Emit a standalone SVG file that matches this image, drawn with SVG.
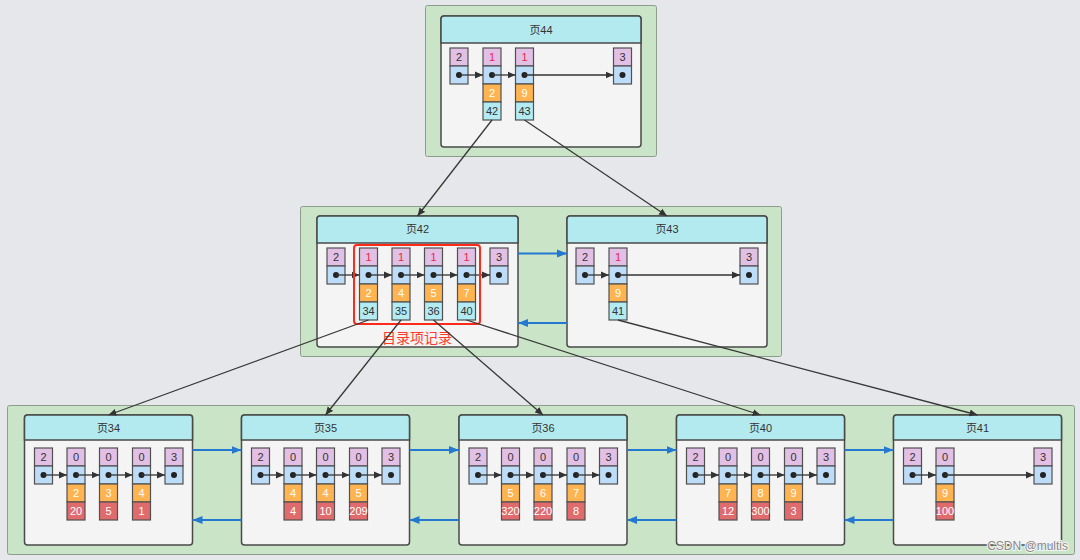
<svg xmlns="http://www.w3.org/2000/svg" width="1080" height="560" viewBox="0 0 1080 560">
<defs>
<style>
.bg{fill:#e6e7ea}
.grp{fill:#c9e4c6;stroke:#8d9d8c;stroke-width:1}
.box{fill:#f4f4f4;stroke:#4a4a4a;stroke-width:1.5}
.hd{fill:#b3eaef;stroke:#4a4a4a;stroke-width:1.5}
.p{fill:#e2bfe4;stroke:#505050;stroke-width:1.2}
.b{fill:#bcdcf8;stroke:#505050;stroke-width:1.2}
.o{fill:#ffb451;stroke:#505050;stroke-width:1.2}
.c{fill:#b2ebf1;stroke:#505050;stroke-width:1.2}
.r{fill:#e06b6d;stroke:#505050;stroke-width:1.2}
text{font-family:"Liberation Sans","Noto Sans CJK SC",sans-serif;text-anchor:middle}
.t{font-size:11px;fill:#333}
.w{font-size:11px;fill:#fff}
.k{font-size:11px;fill:#ee1f47}
.h{font-size:11px;fill:#333}
.dot{fill:#222}
.ar{stroke:#333;stroke-width:1.3;fill:none;marker-end:url(#ah)}
.ln{stroke:#383838;stroke-width:1.3;fill:none;marker-end:url(#ah)}
.bl{stroke:#2478cf;stroke-width:2;fill:none;marker-end:url(#bh)}
</style>
<marker id="ah" markerUnits="userSpaceOnUse" markerWidth="9" markerHeight="8" refX="8" refY="4" orient="auto"><path d="M0,0.5 L8,4 L0,7.5 z" fill="#333"/></marker>
<marker id="bh" markerUnits="userSpaceOnUse" markerWidth="11" markerHeight="9" refX="10" refY="4.5" orient="auto"><path d="M0,0.5 L10,4.5 L0,8.5 z" fill="#2478cf"/></marker>
</defs>
<rect class="bg" x="0" y="0" width="1080" height="560"/>

<g id="containers">
<rect class="grp" x="425.5" y="5.5" width="231" height="151" rx="2"/>
<rect class="grp" x="300.5" y="206.5" width="481" height="150" rx="2"/>
<rect class="grp" x="7.5" y="405.5" width="1067" height="149" rx="2"/>
</g>

<g id="page44">
<rect class="box" x="441" y="16" width="200" height="131" rx="3"/>
<path class="hd" d="M441,43 V19 a3,3 0 0 1 3,-3 H638 a3,3 0 0 1 3,3 V43 Z"/>
<text class="h" x="541" y="34">页44</text>
<rect class="p" x="450" y="48" width="18" height="18"/><rect class="b" x="450" y="66" width="18" height="18"/>
<text class="t" x="459" y="61">2</text><circle class="dot" cx="459" cy="75" r="3"/>
<rect class="p" x="483" y="48" width="18" height="18"/><rect class="b" x="483" y="66" width="18" height="18"/><rect class="o" x="483" y="84" width="18" height="18"/><rect class="c" x="483" y="102" width="18" height="18"/>
<text class="k" x="492" y="61">1</text><circle class="dot" cx="492" cy="75" r="3"/><text class="w" x="492" y="97">2</text><text class="t" x="492" y="115">42</text>
<rect class="p" x="515.5" y="48" width="18" height="18"/><rect class="b" x="515.5" y="66" width="18" height="18"/><rect class="o" x="515.5" y="84" width="18" height="18"/><rect class="c" x="515.5" y="102" width="18" height="18"/>
<text class="k" x="524.5" y="61">1</text><circle class="dot" cx="524.5" cy="75" r="3"/><text class="w" x="524.5" y="97">9</text><text class="t" x="524.5" y="115">43</text>
<rect class="p" x="613.5" y="48" width="18" height="18"/><rect class="b" x="613.5" y="66" width="18" height="18"/>
<text class="t" x="622.5" y="61">3</text><circle class="dot" cx="622.5" cy="75" r="3"/>
<path class="ar" d="M459,75 H483"/><path class="ar" d="M492,75 H515.5"/><path class="ar" d="M524.5,75 H613.5"/>
</g>

<g id="page42">
<rect class="box" x="317" y="216" width="201" height="131" rx="3"/>
<path class="hd" d="M317,243 V219 a3,3 0 0 1 3,-3 H515 a3,3 0 0 1 3,3 V243 Z"/>
<text class="h" x="417.5" y="233">页42</text>
<rect class="p" x="327" y="248" width="18" height="18"/><rect class="b" x="327" y="266" width="18" height="18"/>
<text class="t" x="336" y="261">2</text><circle class="dot" cx="336" cy="275" r="3"/>
<rect class="p" x="359.5" y="248" width="18" height="18"/><rect class="b" x="359.5" y="266" width="18" height="18"/><rect class="o" x="359.5" y="284" width="18" height="18"/><rect class="c" x="359.5" y="302" width="18" height="18"/>
<text class="k" x="368.5" y="261">1</text><circle class="dot" cx="368.5" cy="275" r="3"/><text class="w" x="368.5" y="297">2</text><text class="t" x="368.5" y="315">34</text>
<rect class="p" x="392" y="248" width="18" height="18"/><rect class="b" x="392" y="266" width="18" height="18"/><rect class="o" x="392" y="284" width="18" height="18"/><rect class="c" x="392" y="302" width="18" height="18"/>
<text class="k" x="401" y="261">1</text><circle class="dot" cx="401" cy="275" r="3"/><text class="w" x="401" y="297">4</text><text class="t" x="401" y="315">35</text>
<rect class="p" x="424.5" y="248" width="18" height="18"/><rect class="b" x="424.5" y="266" width="18" height="18"/><rect class="o" x="424.5" y="284" width="18" height="18"/><rect class="c" x="424.5" y="302" width="18" height="18"/>
<text class="k" x="433.5" y="261">1</text><circle class="dot" cx="433.5" cy="275" r="3"/><text class="w" x="433.5" y="297">5</text><text class="t" x="433.5" y="315">36</text>
<rect class="p" x="457.5" y="248" width="18" height="18"/><rect class="b" x="457.5" y="266" width="18" height="18"/><rect class="o" x="457.5" y="284" width="18" height="18"/><rect class="c" x="457.5" y="302" width="18" height="18"/>
<text class="k" x="466.5" y="261">1</text><circle class="dot" cx="466.5" cy="275" r="3"/><text class="w" x="466.5" y="297">7</text><text class="t" x="466.5" y="315">40</text>
<rect class="p" x="490" y="248" width="18" height="18"/><rect class="b" x="490" y="266" width="18" height="18"/>
<text class="t" x="499" y="261">3</text><circle class="dot" cx="499" cy="275" r="3"/>
<path class="ar" d="M336,275 H359.5"/><path class="ar" d="M368.5,275 H392"/><path class="ar" d="M401,275 H424.5"/><path class="ar" d="M433.5,275 H457.5"/><path class="ar" d="M466.5,275 H490"/>
<rect x="354" y="245" width="126" height="79" rx="3" fill="none" stroke="#ff2a1a" stroke-width="2"/>
<text x="417" y="343" style="font-size:14px;fill:#ff3a2a">目录项记录</text>
</g>

<g id="page43">
<rect class="box" x="567" y="216" width="200" height="131" rx="3"/>
<path class="hd" d="M567,243 V219 a3,3 0 0 1 3,-3 H764 a3,3 0 0 1 3,3 V243 Z"/>
<text class="h" x="667" y="233">页43</text>
<rect class="p" x="576" y="248" width="18" height="18"/><rect class="b" x="576" y="266" width="18" height="18"/>
<text class="t" x="585" y="261">2</text><circle class="dot" cx="585" cy="275" r="3"/>
<rect class="p" x="609" y="248" width="18" height="18"/><rect class="b" x="609" y="266" width="18" height="18"/><rect class="o" x="609" y="284" width="18" height="18"/><rect class="c" x="609" y="302" width="18" height="18"/>
<text class="k" x="618" y="261">1</text><circle class="dot" cx="618" cy="275" r="3"/><text class="w" x="618" y="297">9</text><text class="t" x="618" y="315">41</text>
<rect class="p" x="740" y="248" width="18" height="18"/><rect class="b" x="740" y="266" width="18" height="18"/>
<text class="t" x="749" y="261">3</text><circle class="dot" cx="749" cy="275" r="3"/>
<path class="ar" d="M585,275 H609"/><path class="ar" d="M618,275 H740"/>
</g>

<g id="page34">
<rect class="box" x="24.5" y="415" width="168" height="130" rx="3"/>
<path class="hd" d="M24.5,440 V418 a3,3 0 0 1 3,-3 H189.5 a3,3 0 0 1 3,3 V440 Z"/>
<text class="h" x="108.5" y="432">页34</text>
<rect class="p" x="34.5" y="448" width="18" height="18"/><rect class="b" x="34.5" y="466" width="18" height="18"/>
<text class="t" x="43.5" y="461">2</text><circle class="dot" cx="43.5" cy="475" r="3"/>
<rect class="p" x="67" y="448" width="18" height="18"/><rect class="b" x="67" y="466" width="18" height="18"/><rect class="o" x="67" y="484" width="18" height="18"/><rect class="r" x="67" y="502" width="18" height="18"/>
<text class="t" x="76" y="461">0</text><circle class="dot" cx="76" cy="475" r="3"/><text class="w" x="76" y="497">2</text><text class="w" x="76" y="515">20</text>
<rect class="p" x="99.5" y="448" width="18" height="18"/><rect class="b" x="99.5" y="466" width="18" height="18"/><rect class="o" x="99.5" y="484" width="18" height="18"/><rect class="r" x="99.5" y="502" width="18" height="18"/>
<text class="t" x="108.5" y="461">0</text><circle class="dot" cx="108.5" cy="475" r="3"/><text class="w" x="108.5" y="497">3</text><text class="w" x="108.5" y="515">5</text>
<rect class="p" x="132.5" y="448" width="18" height="18"/><rect class="b" x="132.5" y="466" width="18" height="18"/><rect class="o" x="132.5" y="484" width="18" height="18"/><rect class="r" x="132.5" y="502" width="18" height="18"/>
<text class="t" x="141.5" y="461">0</text><circle class="dot" cx="141.5" cy="475" r="3"/><text class="w" x="141.5" y="497">4</text><text class="w" x="141.5" y="515">1</text>
<rect class="p" x="165" y="448" width="18" height="18"/><rect class="b" x="165" y="466" width="18" height="18"/>
<text class="t" x="174" y="461">3</text><circle class="dot" cx="174" cy="475" r="3"/>
<path class="ar" d="M43.5,475 H67"/><path class="ar" d="M76,475 H99.5"/><path class="ar" d="M108.5,475 H132.5"/><path class="ar" d="M141.5,475 H165"/>
</g>

<g id="page35">
<rect class="box" x="241.5" y="415" width="168" height="130" rx="3"/>
<path class="hd" d="M241.5,440 V418 a3,3 0 0 1 3,-3 H406.5 a3,3 0 0 1 3,3 V440 Z"/>
<text class="h" x="325.5" y="432">页35</text>
<rect class="p" x="251.5" y="448" width="18" height="18"/><rect class="b" x="251.5" y="466" width="18" height="18"/>
<text class="t" x="260.5" y="461">2</text><circle class="dot" cx="260.5" cy="475" r="3"/>
<rect class="p" x="284" y="448" width="18" height="18"/><rect class="b" x="284" y="466" width="18" height="18"/><rect class="o" x="284" y="484" width="18" height="18"/><rect class="r" x="284" y="502" width="18" height="18"/>
<text class="t" x="293" y="461">0</text><circle class="dot" cx="293" cy="475" r="3"/><text class="w" x="293" y="497">4</text><text class="w" x="293" y="515">4</text>
<rect class="p" x="316.5" y="448" width="18" height="18"/><rect class="b" x="316.5" y="466" width="18" height="18"/><rect class="o" x="316.5" y="484" width="18" height="18"/><rect class="r" x="316.5" y="502" width="18" height="18"/>
<text class="t" x="325.5" y="461">0</text><circle class="dot" cx="325.5" cy="475" r="3"/><text class="w" x="325.5" y="497">4</text><text class="w" x="325.5" y="515">10</text>
<rect class="p" x="349.5" y="448" width="18" height="18"/><rect class="b" x="349.5" y="466" width="18" height="18"/><rect class="o" x="349.5" y="484" width="18" height="18"/><rect class="r" x="349.5" y="502" width="18" height="18"/>
<text class="t" x="358.5" y="461">0</text><circle class="dot" cx="358.5" cy="475" r="3"/><text class="w" x="358.5" y="497">5</text><text class="w" x="358.5" y="515">209</text>
<rect class="p" x="382" y="448" width="18" height="18"/><rect class="b" x="382" y="466" width="18" height="18"/>
<text class="t" x="391" y="461">3</text><circle class="dot" cx="391" cy="475" r="3"/>
<path class="ar" d="M260.5,475 H284"/><path class="ar" d="M293,475 H316.5"/><path class="ar" d="M325.5,475 H349.5"/><path class="ar" d="M358.5,475 H382"/>
</g>

<g id="page36">
<rect class="box" x="459" y="415" width="168" height="130" rx="3"/>
<path class="hd" d="M459,440 V418 a3,3 0 0 1 3,-3 H624 a3,3 0 0 1 3,3 V440 Z"/>
<text class="h" x="543" y="432">页36</text>
<rect class="p" x="469" y="448" width="18" height="18"/><rect class="b" x="469" y="466" width="18" height="18"/>
<text class="t" x="478" y="461">2</text><circle class="dot" cx="478" cy="475" r="3"/>
<rect class="p" x="501.5" y="448" width="18" height="18"/><rect class="b" x="501.5" y="466" width="18" height="18"/><rect class="o" x="501.5" y="484" width="18" height="18"/><rect class="r" x="501.5" y="502" width="18" height="18"/>
<text class="t" x="510.5" y="461">0</text><circle class="dot" cx="510.5" cy="475" r="3"/><text class="w" x="510.5" y="497">5</text><text class="w" x="510.5" y="515">320</text>
<rect class="p" x="534" y="448" width="18" height="18"/><rect class="b" x="534" y="466" width="18" height="18"/><rect class="o" x="534" y="484" width="18" height="18"/><rect class="r" x="534" y="502" width="18" height="18"/>
<text class="t" x="543" y="461">0</text><circle class="dot" cx="543" cy="475" r="3"/><text class="w" x="543" y="497">6</text><text class="w" x="543" y="515">220</text>
<rect class="p" x="567" y="448" width="18" height="18"/><rect class="b" x="567" y="466" width="18" height="18"/><rect class="o" x="567" y="484" width="18" height="18"/><rect class="r" x="567" y="502" width="18" height="18"/>
<text class="t" x="576" y="461">0</text><circle class="dot" cx="576" cy="475" r="3"/><text class="w" x="576" y="497">7</text><text class="w" x="576" y="515">8</text>
<rect class="p" x="599.5" y="448" width="18" height="18"/><rect class="b" x="599.5" y="466" width="18" height="18"/>
<text class="t" x="608.5" y="461">3</text><circle class="dot" cx="608.5" cy="475" r="3"/>
<path class="ar" d="M478,475 H501.5"/><path class="ar" d="M510.5,475 H534"/><path class="ar" d="M543,475 H567"/><path class="ar" d="M576,475 H599.5"/>
</g>

<g id="page40">
<rect class="box" x="676.5" y="415" width="168" height="130" rx="3"/>
<path class="hd" d="M676.5,440 V418 a3,3 0 0 1 3,-3 H841.5 a3,3 0 0 1 3,3 V440 Z"/>
<text class="h" x="760.5" y="432">页40</text>
<rect class="p" x="686.5" y="448" width="18" height="18"/><rect class="b" x="686.5" y="466" width="18" height="18"/>
<text class="t" x="695.5" y="461">2</text><circle class="dot" cx="695.5" cy="475" r="3"/>
<rect class="p" x="719" y="448" width="18" height="18"/><rect class="b" x="719" y="466" width="18" height="18"/><rect class="o" x="719" y="484" width="18" height="18"/><rect class="r" x="719" y="502" width="18" height="18"/>
<text class="t" x="728" y="461">0</text><circle class="dot" cx="728" cy="475" r="3"/><text class="w" x="728" y="497">7</text><text class="w" x="728" y="515">12</text>
<rect class="p" x="751.5" y="448" width="18" height="18"/><rect class="b" x="751.5" y="466" width="18" height="18"/><rect class="o" x="751.5" y="484" width="18" height="18"/><rect class="r" x="751.5" y="502" width="18" height="18"/>
<text class="t" x="760.5" y="461">0</text><circle class="dot" cx="760.5" cy="475" r="3"/><text class="w" x="760.5" y="497">8</text><text class="w" x="760.5" y="515">300</text>
<rect class="p" x="784.5" y="448" width="18" height="18"/><rect class="b" x="784.5" y="466" width="18" height="18"/><rect class="o" x="784.5" y="484" width="18" height="18"/><rect class="r" x="784.5" y="502" width="18" height="18"/>
<text class="t" x="793.5" y="461">0</text><circle class="dot" cx="793.5" cy="475" r="3"/><text class="w" x="793.5" y="497">9</text><text class="w" x="793.5" y="515">3</text>
<rect class="p" x="817" y="448" width="18" height="18"/><rect class="b" x="817" y="466" width="18" height="18"/>
<text class="t" x="826" y="461">3</text><circle class="dot" cx="826" cy="475" r="3"/>
<path class="ar" d="M695.5,475 H719"/><path class="ar" d="M728,475 H751.5"/><path class="ar" d="M760.5,475 H784.5"/><path class="ar" d="M793.5,475 H817"/>
</g>

<g id="page41">
<rect class="box" x="893.5" y="415" width="168" height="130" rx="3"/>
<path class="hd" d="M893.5,440 V418 a3,3 0 0 1 3,-3 H1058.5 a3,3 0 0 1 3,3 V440 Z"/>
<text class="h" x="977.5" y="432">页41</text>
<rect class="p" x="903.5" y="448" width="18" height="18"/><rect class="b" x="903.5" y="466" width="18" height="18"/>
<text class="t" x="912.5" y="461">2</text><circle class="dot" cx="912.5" cy="475" r="3"/>
<rect class="p" x="936" y="448" width="18" height="18"/><rect class="b" x="936" y="466" width="18" height="18"/><rect class="o" x="936" y="484" width="18" height="18"/><rect class="r" x="936" y="502" width="18" height="18"/>
<text class="t" x="945" y="461">0</text><circle class="dot" cx="945" cy="475" r="3"/><text class="w" x="945" y="497">9</text><text class="w" x="945" y="515">100</text>
<rect class="p" x="1034" y="448" width="18" height="18"/><rect class="b" x="1034" y="466" width="18" height="18"/>
<text class="t" x="1043" y="461">3</text><circle class="dot" cx="1043" cy="475" r="3"/>
<path class="ar" d="M912.5,475 H936"/><path class="ar" d="M945,475 H1034"/>
</g>

<g id="connectors">
<path class="ln" d="M492,120 L417.5,216"/>
<path class="ln" d="M524.5,120 L667,216"/>
<path class="ln" d="M368.5,320 L108.5,415"/>
<path class="ln" d="M401,320 L325.5,415"/>
<path class="ln" d="M433.5,320 L543,415"/>
<path class="ln" d="M466.5,320 L760.5,415"/>
<path class="ln" d="M618,320 L977.5,415"/>
<path class="bl" d="M518,253.5 H567"/>
<path class="bl" d="M567,323 H518"/>
<path class="bl" d="M192.5,450 H241.5"/>
<path class="bl" d="M409.5,450 H459"/>
<path class="bl" d="M627,450 H676.5"/>
<path class="bl" d="M844.5,450 H893.5"/>
<path class="bl" d="M241.5,520 H192.5"/>
<path class="bl" d="M459,520 H409.5"/>
<path class="bl" d="M676.5,520 H627"/>
<path class="bl" d="M893.5,520 H844.5"/>
</g>

<text x="1068" y="550" style="font-size:12px;fill:#8a8a8a;text-anchor:end;stroke:#f4f4f4;stroke-width:2;paint-order:stroke">CSDN @multis</text>
</svg>
